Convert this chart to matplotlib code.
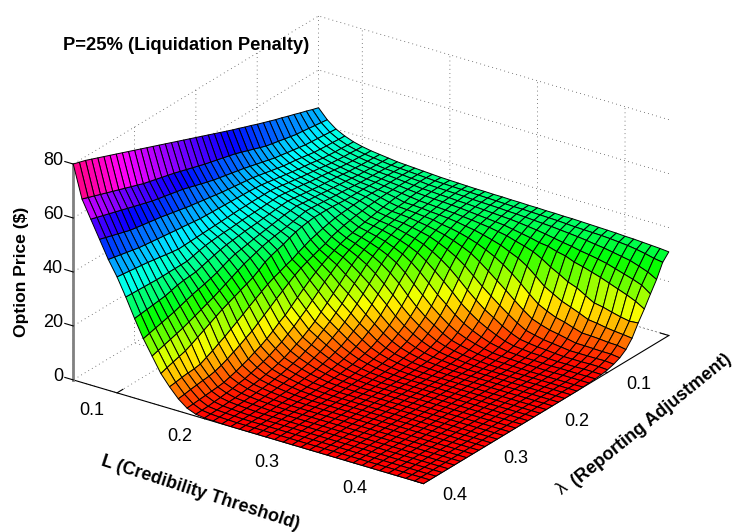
import numpy as np
import matplotlib
matplotlib.use("Agg")
import matplotlib.pyplot as plt
from mpl_toolkits.mplot3d import Axes3D, proj3d

plt.rcParams['font.family'] = ['Liberation Sans', 'DejaVu Sans']

L_vals = [0.05, 0.06, 0.07, 0.08, 0.09, 0.10, 0.11, 0.12, 0.13, 0.14,
          0.15, 0.16, 0.17, 0.18, 0.19, 0.20, 0.21, 0.22, 0.23, 0.24,
          0.25, 0.26, 0.27, 0.28, 0.29, 0.30, 0.31, 0.32, 0.33, 0.34,
          0.35, 0.36, 0.37, 0.38, 0.39, 0.40, 0.41, 0.42, 0.43, 0.44, 0.45]
lam_vals = [0.00, 0.01, 0.02, 0.03, 0.04, 0.05, 0.06, 0.07, 0.08, 0.09,
            0.10, 0.11, 0.12, 0.13, 0.14, 0.15, 0.16, 0.17, 0.18, 0.19,
            0.20, 0.21, 0.22, 0.23, 0.24, 0.25, 0.26, 0.27, 0.28, 0.29,
            0.30, 0.31, 0.32, 0.33, 0.34, 0.35, 0.36, 0.37, 0.38, 0.39, 0.40]

# one row per L, prices along lambda
price = [
    [46,46.7,47.5,48.2,49, 49.7,50.5,51.2,52,52.8, 53.6,54.5,55.3,56.2,57, 57.9,58.8,59.7,60.6,61.5, 62.4,63.3,64.2,65.1,66, 66.9,67.8,68.7,69.6,70.5, 71.4,72.3,73.2,74.1,75, 75.9,76.8,77.7,78.6,79.3, 80],
    [42.5,42.8,43.1,43.4,43.7, 44,44.5,45,45.5,46, 46.5,47.3,48.1,48.9,49.7, 50.5,51.1,51.7,52.3,52.9, 53.5,54.2,54.9,55.6,56.3, 57,57.6,58.2,58.8,59.4, 60,60.8,61.6,62.4,63.2, 64,64.8,65.6,66.4,67.2, 68],
    [40,40.2,40.4,40.6,40.8, 41,41.4,41.8,42.2,42.6, 43,43.6,44.2,44.8,45.4, 46,46.5,47,47.5,48, 48.5,49.2,49.9,50.6,51.3, 52,52.5,53,53.5,54, 54.5,55.2,55.9,56.6,57.3, 58,58.7,59.4,60.1,60.8, 61.5],
    [38.4,38.5,38.7,38.8,39, 39.2,39.6,40,40.4,40.7, 41,41.5,42,42.5,43, 43.5,43.8,44.1,44.4,44.7, 45,45.4,45.8,46.2,46.6, 47,47.5,48,48.5,49, 49.5,49.9,50.3,50.7,51.1, 51.5,52.2,52.9,53.6,54.3, 55],
    [37.2,37.3,37.5,37.6,37.8, 38,38.4,38.8,39.1,39.4, 39.8,40.2,40.6,41,41.4, 41.8,42,42.2,42.3,42.4, 42.5,42.6,42.7,42.8,42.9, 43,43.3,43.6,43.9,44.2, 44.5,44.8,45.1,45.4,45.7, 46,46.5,47,47.5,48, 48.5],
    [36.4,36.5,36.7,36.8,37, 37.2,37.5,37.9,38.2,38.5, 38.8,39.2,39.5,39.9,40.3, 40.6,40.6,40.6,40.6,40.5, 40.5,40.4,40.3,40.2,40.1, 40,39.9,39.8,39.7,39.6, 39.5,39.9,40.3,40.7,41.1, 41.5,41.8,42.1,42.4,42.7, 43],
    [35.8,35.9,36.1,36.2,36.4, 36.6,36.9,37.2,37.5,37.7, 38,38.4,38.7,39,39.3, 39.6,39.5,39.4,39.2,39.1, 39,38.9,38.7,38.5,38.4, 38.2,38,37.7,37.2,36.6, 36,36,36,36,36, 36,36.1,36.2,36.3,36.4, 36.5],
    [35.4,35.5,35.6,35.7,35.9, 36,36.3,36.6,36.8,37, 37.2,37.5,37.8,38.1,38.4, 38.7,38.5,38.3,38,37.8, 37.5,37.3,37.1,36.8,36.5, 36.2,35.7,35.1,34.4,33.7, 33,32.8,32.6,32.2,31.6, 31,30.7,30.4,30.1,29.8, 29.5],
    [35,35.1,35.2,35.3,35.4, 35.5,35.8,36,36.2,36.4, 36.6,36.9,37.1,37.3,37.5, 37.8,37.5,37.2,36.8,36.4, 36,35.6,35.2,34.7,34.2, 33.8,33,32,31,30.2, 29.5,28.9,28.3,27.6,26.8, 26,25.4,24.8,24.2,23.6, 23],
    [34.6,34.7,34.8,34.9,35, 35.1,35.2,35.4,35.6,35.8, 35.9,36.1,36.3,36.5,36.7, 36.8,36.3,35.8,35.3,34.9, 34.5,34,33.4,32.6,31.8, 31,29.9,28.8,27.7,26.6, 25.5,24.6,23.7,22.8,21.9, 21,20.3,19.6,18.9,18.2, 17.5],
    [34.4,34.5,34.6,34.7,34.7, 34.8,34.9,35,35,35, 35,35.2,35.4,35.5,35.5, 35.5,35.2,34.8,34.2,33.4, 32.4,31.7,30.9,29.9,28.3, 26.9,25.9,25,24,23, 22,20.8,19.6,18.4,17.2, 16,14.9,14.2,13.5,12.8, 12],
    [34.2,34.3,34.4,34.4,34.4, 34.4,34.4,34.5,34.5,34.4, 34.2,34,33.8,33.5,33, 32.4,31.7,31,30,29, 27.8,27,26,25.1,24, 22.7,21.4,20,18.5,17.1, 15.7,14.3,13.1,11.8,10.7, 9.6,9.2,9,8.7,8.3, 8],
    [34,34.1,34.1,34.1,34.1, 34,34,33.8,33.6,33.4, 33,32.7,32.2,31.7,31, 30.3,29.1,28.3,27.4,26.5, 25.5,24.2,22.7,21.2,19.7, 18,16.4,14.8,13.2,12, 10.7,9.5,8.3,7.3,6.5, 6,5.8,5.5,5.2,4.8, 4.5],
    [33.8,33.9,33.9,33.8,33.7, 33.6,33.4,33,32.6,32.2, 31.7,31.2,30.7,30,29.4, 28.6,27.5,26.4,25.1,23.6, 22,20.2,18.3,16.4,14.5, 13.1,11.4,9.9,8.6,7.6, 6.5,5.6,4.7,4,3.3, 3,2.8,2.6,2.4,2.2, 2],
    [33.6,33.7,33.6,33.5,33.4, 33.2,32.6,32.4,32,31.7, 31.2,30.7,30,29.2,28.3, 27.3,26,24.5,22.7,20.9, 18.8,16.8,14.8,13.1,11.3, 9.8,8.3,7.2,6,5.1, 4.3,3.6,2.9,2.5,2, 1.7,1.4,1.2,0.9,0.8, 0.7],
    [33.5,33.6,33.5,33.4,33.2, 32.8,32.5,32.2,31.8,31.2, 30.8,30.1,29.2,28.2,27, 25.7,24,21.9,19.7,17.6, 15.5,13.5,11.4,9.8,8.3, 7.1,5.9,4.8,4,3.3, 2.7,2.2,1.8,1.5,1.2, 0.9,0.8,0.6,0.5,0.4, 0.3],
    [33.4,33.5,33.4,33.2,33, 32.6,32.3,31.9,31.5,30.9, 30.2,29.3,28.3,27,25.5, 23.8,21.6,19.5,17.1,14.8, 12.8,10.9,9.3,7.8,6.4, 5.4,4.3,3.6,2.9,2.3, 1.9,1.5,1.2,1,0.8, 0.6,0.5,0.4,0.3,0.2, 0.15],
    [33.3,33.4,33.3,33.1,32.9, 32.4,32,31.6,31,30.3, 29.4,28.3,27,25.5,23.6, 21.4,19,16.6,14.3,12.2, 10.3,8.6,7.2,5.9,4.8, 3.9,3.1,2.5,2,1.6, 1.3,1,0.8,0.6,0.5, 0.4,0.3,0.2,0.15,0.1, 0.05],
    [33.2,33.3,33.2,32.9,32.7, 32.2,31.8,31.3,30.5,29.6, 28.5,27.1,25.5,23.6,21.2, 18.5,16.1,13.7,11.4,9.4, 7.9,6.4,5.1,4.2,3.3, 2.6,2,1.6,1.3,1, 0.8,0.6,0.5,0.3,0.3, 0.2,0.1,0.05,0,0, 0],
    [33.2,33.2,33,32.8,32.5, 32,31.5,30.6,29.8,28.8, 27.3,25.6,23.4,20.9,18.3, 15.4,13.1,10.7,8.8,7.2, 5.7,4.5,3.5,2.7,2.1, 1.6,1.3,1,0.7,0.5, 0.4,0.3,0.2,0.15,0.1, 0,0,0,0,0, 0],
    [33.1,33.1,32.9,32.6,32.2, 31.7,31.1,30.1,29,27.5, 25.6,23.4,20.7,17.6,14.8, 12.2,9.9,7.9,6.3,4.9, 3.7,2.9,2.2,1.6,1.3, 0.9,0.7,0.5,0.4,0.3, 0.2,0.1,0.05,0,0, 0,0,0,0,0, 0],
    [33.1,33,32.8,32.4,31.9, 31.4,30.5,29.4,27.9,26, 23.6,20.7,17.6,14.5,11.6, 9.3,7.3,5.7,4.3,3.2, 2.4,1.8,1.4,1,0.7, 0.5,0.4,0.3,0.2,0.1, 0,0,0,0,0, 0,0,0,0,0, 0],
    [33,32.9,32.7,32.2,31.6, 31,30,28.5,26.6,24.2, 21.2,17.8,14.3,11.4,8.9, 6.9,5.2,3.8,2.8,2, 1.5,1.1,0.8,0.5,0.4, 0.3,0.2,0.1,0,0, 0,0,0,0,0, 0,0,0,0,0, 0],
    [33,32.8,32.5,32,31.3, 30.6,29.2,27.4,25.1,21.9, 18.3,14.8,11.6,8.8,6.7, 4.9,3.5,2.5,1.8,1.3, 0.9,0.6,0.4,0.3,0.2, 0.1,0,0,0,0, 0,0,0,0,0, 0,0,0,0,0, 0],
    [32.9,32.8,32.4,31.8,31, 30,28.3,26,22.9,19, 15.2,11.6,8.8,6.4,4.6, 3.2,2.2,1.5,1.1,0.7, 0.5,0.3,0.2,0.1,0, 0,0,0,0,0, 0,0,0,0,0, 0,0,0,0,0, 0],
    [32.9,32.7,32.2,31.5,30.4, 29.4,27.3,24.4,20.4,16.1, 12.4,9.1,6.5,4.5,3, 2.1,1.4,0.9,0.6,0.4, 0.2,0.1,0,0,0, 0,0,0,0,0, 0,0,0,0,0, 0,0,0,0,0, 0],
    [32.8,32.6,32,31.1,29.8, 28.4,25.8,22.4,17.8,13.5, 9.8,6.9,4.8,3.2,2.1, 1.4,0.9,0.6,0.4,0.2, 0.1,0,0,0,0, 0,0,0,0,0, 0,0,0,0,0, 0,0,0,0,0, 0],
    [32.8,32.5,31.8,30.7,29.2, 27.5,24.4,20,15.2,11, 7.8,5.2,3.4,2.2,1.4, 0.9,0.6,0.3,0.2,0.1, 0,0,0,0,0, 0,0,0,0,0, 0,0,0,0,0, 0,0,0,0,0, 0],
    [32.7,32.4,31.6,30.2,28.4, 26.4,22.4,17.3,12.4,8.6, 5.7,3.7,2.2,1.4,0.8, 0.5,0.3,0.1,0,0, 0,0,0,0,0, 0,0,0,0,0, 0,0,0,0,0, 0,0,0,0,0, 0],
    [32.7,32.2,31.3,29.6,28, 24.7,19.7,14.3,9.8,6.4, 4,2.4,1.5,0.8,0.5, 0.3,0.1,0,0,0, 0,0,0,0,0, 0,0,0,0,0, 0,0,0,0,0, 0,0,0,0,0, 0],
    [32.6,32,31,29,27, 22.6,16.8,11.6,7.5,4.6, 2.7,1.6,0.9,0.5,0.3, 0.1,0,0,0,0, 0,0,0,0,0, 0,0,0,0,0, 0,0,0,0,0, 0,0,0,0,0, 0],
    [32.5,31.9,30.7,28.5,26.3, 20.9,15,10,6.3,3.8, 2.2,1.3,0.7,0.4,0.2, 0.05,0,0,0,0, 0,0,0,0,0, 0,0,0,0,0, 0,0,0,0,0, 0,0,0,0,0, 0],
    [32.4,31.8,30.3,27.8,25, 19,13.2,8.6,5.3,3.1, 1.8,1,0.5,0.3,0.1, 0,0,0,0,0, 0,0,0,0,0, 0,0,0,0,0, 0,0,0,0,0, 0,0,0,0,0, 0],
    [32.3,31.7,29.8,27.3,24.2, 17.8,12,7.8,4.7,2.7, 1.6,0.9,0.5,0.2,0.1, 0,0,0,0,0, 0,0,0,0,0, 0,0,0,0,0, 0,0,0,0,0, 0,0,0,0,0, 0],
    [32.2,31.5,29.4,26.7,23.2, 15.9,10.7,6.7,4,2.3, 1.3,0.7,0.4,0.2,0, 0,0,0,0,0, 0,0,0,0,0, 0,0,0,0,0, 0,0,0,0,0, 0,0,0,0,0, 0],
    [32,31.2,28.8,26,22.2, 14.1,9.3,5.7,3.3,1.9, 1.1,0.6,0.3,0.1,0, 0,0,0,0,0, 0,0,0,0,0, 0,0,0,0,0, 0,0,0,0,0, 0,0,0,0,0, 0],
    [31.9,30.9,28.2,25,21, 13.5,8.9,5.6,3.3,1.9, 1.1,0.6,0.4,0.15,0, 0,0,0,0,0, 0,0,0,0,0, 0,0,0,0,0, 0,0,0,0,0, 0,0,0,0,0, 0],
    [31.7,30.4,27.6,24,19.8, 12.6,8.3,5.4,3.2,1.9, 1.1,0.6,0.4,0.2,0, 0,0,0,0,0, 0,0,0,0,0, 0,0,0,0,0, 0,0,0,0,0, 0,0,0,0,0, 0],
    [31.5,29.8,26.5,23,18.6, 11.8,7.9,5.1,3.1,1.9, 1.2,0.7,0.4,0.2,0, 0,0,0,0,0, 0,0,0,0,0, 0,0,0,0,0, 0,0,0,0,0, 0,0,0,0,0, 0],
    [31.3,29,25.3,21.8,17.2, 11.2,7.6,5,3.1,2, 1.2,0.7,0.4,0.2,0, 0,0,0,0,0, 0,0,0,0,0, 0,0,0,0,0, 0,0,0,0,0, 0,0,0,0,0, 0],
    [31,28.5,23.5,19.5,15.3, 11.5,7.2,4.4,2.7,1.7, 1,0.6,0.4,0.2,0.1, 0,0,0,0,0, 0,0,0,0,0, 0,0,0,0,0, 0,0,0,0,0, 0,0,0,0,0, 0],
]

x_ticks = [0.1, 0.2, 0.3, 0.4]
y_ticks = [0.1, 0.2, 0.3, 0.4]
z_ticks = [0, 20, 40, 60, 80]

X, Y = np.meshgrid(L_vals, lam_vals)
Z = np.array(price).T

fig = plt.figure(figsize=(7.35, 5.32), dpi=100)
ax = fig.add_axes([47 / 735, -41.8 / 532, 631 / 735, 631 / 532], projection='3d', proj_type='ortho')
ax.view_init(elev=25, azim=-55)
ax.set_box_aspect((1, 1, 0.557))

ax.plot_surface(X, Y, Z, cmap='hsv', vmin=0, vmax=80, rstride=1, cstride=1,
                edgecolor='k', linewidth=0.7, shade=False)

ax.set_xlim(0.05, 0.45, view_margin=0)
ax.set_ylim(0.4, 0.0, view_margin=0)
ax.set_zlim(0, 80, view_margin=0)
ax.set_xticks(x_ticks)
ax.set_yticks([0.0] + y_ticks)
ax.set_zticks(z_ticks)
ax.set_xticklabels([])
ax.set_yticklabels([])
ax.set_zticklabels([])

for axis in (ax.xaxis, ax.yaxis, ax.zaxis):
    axis.set_pane_color((1, 1, 1, 0))
    axis.pane.set_edgecolor('none')
    axis._axinfo['grid'].update(color='#555555', linewidth=0.6, linestyle=(0, (1, 4)))
    axis._axinfo['tick'].update(inward_factor=0.0, outward_factor=0.3)
ax.zaxis.set_ticks_position('upper')
ax.zaxis.line.set_color('#808080')
ax.zaxis.line.set_linewidth(2)


def tick_label(text, x, y, z, dx, dy, ha):
    # project the tick into the axes plane, then nudge the label in pixels
    x2, y2, _ = proj3d.proj_transform(x, y, z, ax.get_proj())
    ax.annotate(text, xy=(x2, y2), xytext=(dx, dy), textcoords='offset pixels',
                fontsize=13, ha=ha, va='center', annotation_clip=False)


for t in x_ticks:
    tick_label('%.1f' % t, t, 0.4, 0, -25, -18, 'center')
for t in y_ticks:
    tick_label('%.1f' % t, 0.45, t, 0, 31, -12, 'center')
for t in z_ticks:
    tick_label(str(t), 0.05, 0.4, t, -10, 3.5, 'right')

fig.text(63 / 735, 1 - 45 / 532, 'P=25% (Liquidation Penalty)', fontweight='bold', fontsize=13.2, va='center')
fig.text(22 / 735, 1 - 272 / 532, 'Option Price ($)', fontweight='bold', fontsize=12.6, rotation=90, va='center', ha='center')
fig.text(100 / 735, 1 - 465 / 532, 'L (Credibility Threshold)', fontweight='bold', fontsize=13,
         rotation=-18, rotation_mode='anchor', va='baseline')
fig.text(562 / 735, 1 - 495 / 532, '\u03bb', fontsize=13, rotation=39, rotation_mode='anchor', va='baseline')
fig.text(576 / 735, 1 - 487 / 532, '(Reporting Adjustment)', fontweight='bold', fontsize=13,
         rotation=39, rotation_mode='anchor', va='baseline')

fig.savefig('out.png', dpi=100)
